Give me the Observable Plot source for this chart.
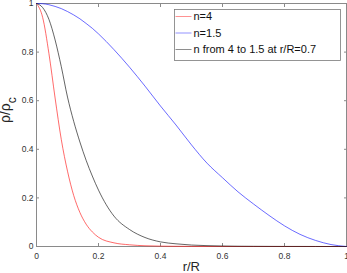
<!DOCTYPE html>
<html><head><meta charset="utf-8">
<script src="https://cdn.jsdelivr.net/npm/d3@7"></script>
<script src="https://cdn.jsdelivr.net/npm/@observablehq/plot@0.6"></script>
<style>
body{margin:0;background:#fff;}
#chart{position:relative;width:347px;height:273px;}
#legend{position:absolute;left:0;top:0;pointer-events:none;}
</style>
</head><body><div id="chart"></div>
<script>
// r/R sample positions
const rR = [0,0.02,0.04,0.06,0.08,0.1,0.12,0.14,0.16,0.18,0.2,0.25,0.3,0.35,0.4,0.45,0.5,0.55,0.6,0.65,0.7,0.75,0.8,0.85,0.9,0.95,1];
// density profiles rho/rho_c
const rhoN4  = [1,0.942,0.795,0.611,0.44,0.31,0.21,0.14,0.092,0.06,0.038,0.015,0.007,0.003,0.0015,0.0008,0.0004,0.0002,0.0001,0,0,0,0,0,0,0,0];
const rhoN15 = [1,0.999,0.995,0.988,0.979,0.967,0.953,0.937,0.918,0.898,0.875,0.81,0.738,0.66,0.578,0.5,0.418,0.343,0.283,0.225,0.175,0.128,0.085,0.05,0.025,0.008,0];
const rhoMix = [1,0.983,0.935,0.85,0.74,0.615,0.515,0.43,0.355,0.29,0.232,0.125,0.07,0.037,0.019,0.011,0.006,0.0035,0.002,0.0012,0.0008,0.0005,0.0003,0.0002,0.0001,0,0];
const seriesNames = ["n=4","n=1.5","n from 4 to 1.5 at r/R=0.7"];
const seriesColors = ["#ff1a1a","#1a1aff","#111111"];
const xTicks = [0,0.2,0.4,0.6,0.8,1];
const yTicks = [0,0.2,0.4,0.6,0.8,1];
const xLabel = "r/R";

const rows = [];
[rhoN4, rhoN15, rhoMix].forEach((arr, k) => arr.forEach((v, i) => rows.push({r: rR[i], rho: v, s: seriesNames[k]})));

const font = "Liberation Sans, Arial, sans-serif";
const axisCol = "#8a8a8a";
const fmt = d => String(d);

const plot = Plot.plot({
  width: 347, height: 273,
  marginLeft: 36, marginRight: 1, marginTop: 3, marginBottom: 27,
  style: {fontFamily: font, fontSize: "8.5px", color: "#333", background: "#fff"},
  x: {domain: [0, 1]},
  y: {domain: [0, 1]},
  color: {domain: seriesNames, range: seriesColors},
  marks: [
    Plot.frame({stroke: axisCol, strokeWidth: 1}),
    Plot.axisX(xTicks, {anchor: "bottom", tickSize: -3, tickPadding: 9.5, tickFormat: fmt, label: null, stroke: axisCol}),
    Plot.axisX(xTicks, {anchor: "top", tickSize: -3, tickFormat: () => "", label: null, stroke: axisCol}),
    Plot.axisY(yTicks, {anchor: "left", tickSize: -3, tickPadding: 6, tickFormat: fmt, label: null, stroke: axisCol}),
    Plot.axisY(yTicks, {anchor: "right", tickSize: -3, tickFormat: () => "", label: null, stroke: axisCol}),
    Plot.line(rows, {x: "r", y: "rho", z: "s", stroke: "s", strokeWidth: 0.65, curve: "monotone-x"})
  ]
});
document.getElementById("chart").appendChild(plot);

const svg = d3.select(plot);
// x label
svg.append("text").attr("x", 191.3).attr("y", 271).attr("text-anchor", "middle")
  .attr("font-family", font).attr("font-size", 13).attr("fill", "#262626").text(xLabel);
// y label rho/rho_c
const yl = svg.append("text").attr("transform", "translate(10,123) rotate(-90)").attr("text-anchor", "start")
  .attr("font-family", font).attr("font-size", 14).attr("fill", "#262626");
yl.append("tspan").text("ρ/ρ");
yl.append("tspan").attr("dy", 6).attr("font-size", 12).text("c");

// legend as an overlay svg on top of the plot
const lg = d3.select("#chart").append("svg").attr("id", "legend")
  .attr("width", 347).attr("height", 273)
  .attr("xmlns", "http://www.w3.org/2000/svg");
lg.append("rect").attr("x", 174.5).attr("y", 9.5).attr("width", 166).attr("height", 51)
  .attr("fill", "#ffffff").attr("stroke", "#7a7a7a").attr("stroke-width", 0.8);
const rowY = [16.5, 33, 49.5];
seriesNames.forEach((name, i) => {
  lg.append("line").attr("x1", 175.5).attr("x2", 191.5).attr("y1", rowY[i]).attr("y2", rowY[i])
    .attr("stroke", seriesColors[i]).attr("stroke-width", 0.8).attr("stroke-opacity", 0.6);
  lg.append("text").attr("x", 193.5).attr("y", rowY[i]).attr("dy", "0.36em").attr("text-anchor", "start")
    .attr("font-family", font).attr("font-size", 11).attr("fill", "#111").text(name);
});
</script>
</body></html>
